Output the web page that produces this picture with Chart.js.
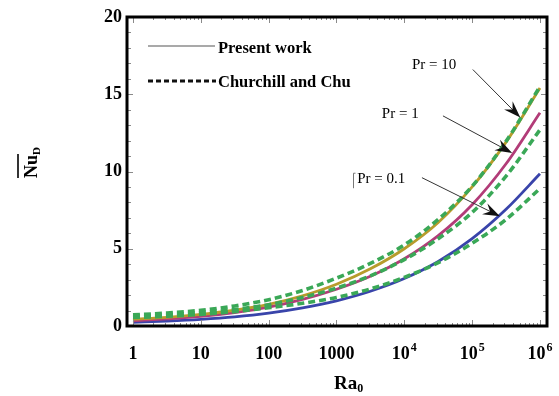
<!DOCTYPE html>
<html>
<head>
<meta charset="utf-8">
<script src="https://cdn.jsdelivr.net/npm/chart.js@4/dist/chart.umd.min.js"></script>
<style>
  body { margin: 0; background: #fff; }
  canvas { display: block; }
</style>
</head>
<body>
<canvas id="nuChart" width="559" height="396"></canvas>
<script>
const raValues = [1, 3.162, 10, 31.62, 100, 316.2, 1000, 3162, 1e4, 31623, 1e5, 316228, 1e6];

// present work (solid)
const presentPr10 = [0.43, 0.56, 0.75, 1.02, 1.4, 1.95, 2.7, 3.7, 5.0, 6.7, 9.0, 11.9, 15.4];
const presentPr1 = [0.34, 0.46, 0.62, 0.87, 1.22, 1.72, 2.38, 3.22, 4.35, 5.85, 7.85, 10.5, 13.8];
const presentPr01 = [0.24, 0.32, 0.43, 0.59, 0.83, 1.17, 1.63, 2.25, 3.07, 4.17, 5.65, 7.55, 9.85];

// Churchill and Chu (dashed)
const churchillPr10 = [0.72, 0.84, 1.02, 1.3, 1.7, 2.3, 3.1, 4.05, 5.25, 6.9, 9.05, 11.95, 15.5];
const churchillPr1 = [0.62, 0.72, 0.86, 1.07, 1.38, 1.85, 2.45, 3.25, 4.3, 5.65, 7.35, 9.7, 12.7];
const churchillPr01 = [0.55, 0.63, 0.75, 0.93, 1.18, 1.47, 1.85, 2.4, 3.15, 4.1, 5.35, 6.9, 8.9];

const xTickValues = [1, 10, 100, 1000, 1e4, 1e5, 1e6];
const xTickBases = ["1", "10", "100", "1000", "10", "10", "10"];
const xTickExps = ["", "", "", "", "4", "5", "6"];
const yTickValues = [0, 5, 10, 15, 20];

// annotations: label position, arrow start, arrow tip (data coords)
const prNotes = [
    { text: "Pr = 10", at: [10 ** 4.44, 16.9], from: [10 ** 5.01, 16.6], to: [10 ** 5.71, 13.5] },
    { text: "Pr = 1", at: [10 ** 3.94, 13.7], from: [10 ** 4.57, 13.6], to: [10 ** 5.59, 11.2] },
    { text: "Pr = 0.1", at: [10 ** 3.66, 9.5], from: [10 ** 4.26, 9.6], to: [10 ** 5.41, 7.1] }
];

const pts = arr => arr.map((v, i) => ({ x: raValues[i], y: v }));

const solid = (label, arr, color) => ({
    label, data: pts(arr), borderColor: color, borderWidth: 2.8,
    pointRadius: 0, cubicInterpolationMode: "monotone", order: 1
});
const dashed = (label, arr) => ({
    label, data: pts(arr), borderColor: "#3aa857", borderWidth: 3.6,
    borderDash: [7, 4], pointRadius: 0, cubicInterpolationMode: "monotone", order: 0
});

const serif = "'Liberation Serif', 'Times New Roman', serif";

const decorations = {
    id: "decorations",
    afterDraw(chart) {
        const { ctx, chartArea: a, scales: { x, y } } = chart;
        ctx.save();

        // inner ticks
        ctx.strokeStyle = "#8a8a8a";
        ctx.lineWidth = 1;
        ctx.beginPath();
        for (let v = 1; v < 20; v++) {
            const py = Math.round(y.getPixelForValue(v)) + 0.5;
            const len = v % 5 === 0 ? 6 : 4;
            ctx.moveTo(a.left, py); ctx.lineTo(a.left + len, py);
            ctx.moveTo(a.right, py); ctx.lineTo(a.right - len, py);
        }
        for (let d = 0; d <= 6; d++) {
            for (let m = 1; m <= 9; m++) {
                const v = m * 10 ** d;
                if (v > x.max) break;
                const px = Math.round(x.getPixelForValue(v)) + 0.5;
                const len = m === 1 ? 6 : 3;
                ctx.moveTo(px, a.bottom); ctx.lineTo(px, a.bottom - len);
                ctx.moveTo(px, a.top); ctx.lineTo(px, a.top + len);
            }
        }
        ctx.stroke();

        // frame
        ctx.strokeStyle = "#000";
        ctx.lineWidth = 3;
        ctx.strokeRect(a.left, a.top, a.width, a.height);

        // x tick labels (with exponents)
        ctx.fillStyle = "#000";
        ctx.textBaseline = "alphabetic";
        ctx.textAlign = "left";
        xTickValues.forEach((v, i) => {
            ctx.font = "bold 18px " + serif;
            const bw = ctx.measureText(xTickBases[i]).width;
            ctx.font = "bold 12px " + serif;
            const ew = xTickExps[i] ? ctx.measureText(xTickExps[i]).width + 1 : 0;
            const left = x.getPixelForValue(v) - (bw + ew) / 2;
            ctx.font = "bold 18px " + serif;
            ctx.fillText(xTickBases[i], left, a.bottom + 33);
            if (xTickExps[i]) {
                ctx.font = "bold 12px " + serif;
                ctx.fillText(xTickExps[i], left + bw + 1, a.bottom + 25);
            }
        });

        // legend
        ctx.strokeStyle = "#555";
        ctx.lineWidth = 1.2;
        ctx.beginPath(); ctx.moveTo(148, 46); ctx.lineTo(215, 46); ctx.stroke();
        ctx.strokeStyle = "#111";
        ctx.lineWidth = 3;
        ctx.setLineDash([5, 3]);
        ctx.beginPath(); ctx.moveTo(148, 81); ctx.lineTo(216, 81); ctx.stroke();
        ctx.setLineDash([]);
        ctx.fillStyle = "#000";
        ctx.font = "bold 16.5px " + serif;
        ctx.textBaseline = "middle";
        ctx.fillText("Present work", 218, 49);
        ctx.fillText("Churchill and Chu", 218, 83);

        // Pr labels with arrows
        ctx.font = "15px " + serif;
        ctx.textAlign = "center";
        prNotes.forEach(n => {
            ctx.fillStyle = "#000";
            ctx.fillText(n.text, x.getPixelForValue(n.at[0]), y.getPixelForValue(n.at[1]));
            const x0 = x.getPixelForValue(n.from[0]), y0 = y.getPixelForValue(n.from[1]);
            const x1 = x.getPixelForValue(n.to[0]), y1 = y.getPixelForValue(n.to[1]);
            const c = Math.cos(Math.atan2(y1 - y0, x1 - x0)), s = Math.sin(Math.atan2(y1 - y0, x1 - x0));
            ctx.strokeStyle = "#333";
            ctx.lineWidth = 1;
            ctx.beginPath(); ctx.moveTo(x0, y0); ctx.lineTo(x1 - 10 * c, y1 - 10 * s); ctx.stroke();
            ctx.fillStyle = "#111";
            ctx.beginPath();
            ctx.moveTo(x1, y1);
            ctx.lineTo(x1 - 17 * c + 6 * s, y1 - 17 * s - 6 * c);
            ctx.lineTo(x1 - 11 * c, y1 - 11 * s);
            ctx.lineTo(x1 - 17 * c - 6 * s, y1 - 17 * s + 6 * c);
            ctx.closePath();
            ctx.fill();
        });
        // little bracket left of "Pr = 0.1"
        const bx = Math.round(x.getPixelForValue(10 ** 3.66)) - 27.5;
        const by = y.getPixelForValue(9.5);
        ctx.strokeStyle = "#777";
        ctx.lineWidth = 1;
        ctx.beginPath(); ctx.moveTo(bx + 2, by - 6); ctx.lineTo(bx, by - 6); ctx.lineTo(bx, by + 9); ctx.stroke();

        // x title
        ctx.fillStyle = "#000";
        ctx.textAlign = "left";
        ctx.textBaseline = "alphabetic";
        ctx.font = "bold 19px " + serif;
        ctx.fillText("Ra", 334, 389);
        const raW = ctx.measureText("Ra").width;
        ctx.font = "bold 12px " + serif;
        ctx.fillText("0", 334 + raW, 392);

        // y title, rotated, with overline
        ctx.translate(37, 161);
        ctx.rotate(-Math.PI / 2);
        ctx.font = "bold 18px " + serif;
        const nuW = ctx.measureText("Nu").width;
        ctx.fillText("Nu", -17, 0);
        ctx.font = "bold 11px " + serif;
        ctx.fillText("D", -17 + nuW, 3);
        ctx.strokeStyle = "#000";
        ctx.lineWidth = 1.6;
        ctx.beginPath(); ctx.moveTo(-17, -19); ctx.lineTo(-17 + nuW + 1, -19); ctx.stroke();

        ctx.restore();
    }
};

new Chart(document.getElementById("nuChart"), {
    type: "line",
    data: {
        datasets: [
            dashed("Churchill Pr=10", churchillPr10),
            dashed("Churchill Pr=1", churchillPr1),
            dashed("Churchill Pr=0.1", churchillPr01),
            solid("Present Pr=10", presentPr10, "#b89c2c"),
            solid("Present Pr=1", presentPr1, "#b23c78"),
            solid("Present Pr=0.1", presentPr01, "#3944aa")
        ]
    },
    options: {
        responsive: false,
        animation: false,
        devicePixelRatio: 1,
        layout: { padding: { top: 17, right: 12, left: 0, bottom: 0 } },
        plugins: { legend: { display: false }, tooltip: { enabled: false } },
        scales: {
            x: {
                type: "logarithmic",
                min: 0.816,
                max: 1.27e6,
                grid: { display: false, drawTicks: false },
                border: { display: false },
                afterBuildTicks: s => { s.ticks = xTickValues.map(v => ({ value: v })); },
                afterFit: s => { s.height = 70; },
                ticks: { display: false }
            },
            y: {
                min: 0,
                max: 20,
                grid: { display: false, drawTicks: false },
                border: { display: false },
                afterBuildTicks: s => { s.ticks = yTickValues.map(v => ({ value: v })); },
                afterFit: s => { s.width = 127; },
                ticks: {
                    padding: 5,
                    color: "#000",
                    font: { family: serif, size: 18, weight: "bold" }
                }
            }
        }
    },
    plugins: [decorations]
});
</script>
</body>
</html>
